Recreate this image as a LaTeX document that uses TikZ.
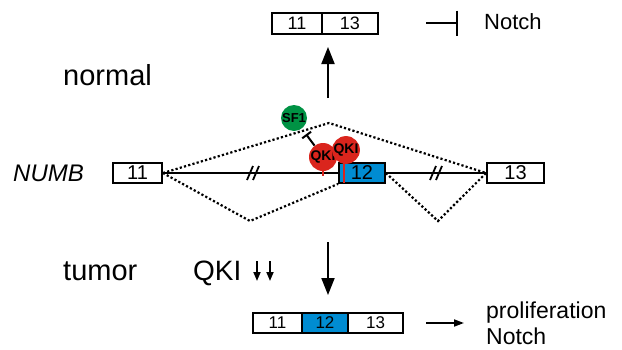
\documentclass[tikz,border=0pt]{standalone}
\usepackage{fontspec}
\setmainfont{Liberation Sans}
\usetikzlibrary{arrows.meta}
\definecolor{exblue}{RGB}{0,140,210}
\definecolor{qred}{RGB}{218,37,29}
\definecolor{sfgreen}{RGB}{0,146,68}
\begin{document}
\begin{tikzpicture}[x=1pt,y=-1pt,
  exon/.style={draw,line width=1.8pt,minimum height=20pt,inner sep=0pt,fill=white,
    font=\fontsize{18}{18}\selectfont},
  dotline/.style={line width=2.2pt,dash pattern=on 2.2pt off 2.2pt},
  bigarrow/.style={line width=2pt,-{Triangle[width=13pt,length=17pt]}},
  lbl/.style={anchor=base west,inner sep=0pt},
  qki/.style={circle,fill=qred,minimum size=28pt,inner sep=0pt,
    font=\bfseries\fontsize{14}{14}\selectfont},
  brk/.style={line width=1.8pt}]
\useasboundingbox (0,0) rectangle (622,349);

% top spliced product
\node[exon,minimum width=50pt,minimum height=21pt] (t11) at (297,23.5) {11};
\node[exon,minimum width=56pt,minimum height=21pt] (t13) at (350,23.5) {13};
\coordinate (inhS) at (426,23);
\coordinate (inhE) at (458,23);
\draw[line width=1.8pt,-{Bar[width=25pt,line width=2pt]}] (inhS) -- (inhE);
\node[lbl,font=\fontsize{22}{22}\selectfont] (notch1) at (484,29) {Notch};

\coordinate (upS) at (328,98);
\coordinate (upE) at (328,47);
\draw[bigarrow] (upS) -- (upE);

\node[lbl,font=\fontsize{29}{29}\selectfont] (normal) at (63,85) {normal};

% gene
\node[lbl,font=\itshape\fontsize{24}{24}\selectfont] (numb) at (13,181) {NUMB};
\node[exon,minimum width=49pt,font=\fontsize{20}{20}\selectfont] (e11) at (137.5,173) {11};
\node[exon,minimum width=46pt,fill=exblue,font=\fontsize{20}{20}\selectfont] (e12) at (362,173) {12};
\node[exon,minimum width=57pt,font=\fontsize{20}{20}\selectfont] (e13) at (515.5,173) {13};

\draw[line width=1.8pt] (e11.east) -- (e12.west);
\draw[line width=1.8pt] (e12.east) -- (e13.west);
\foreach \bx in {252,435}{
  \draw[brk] (\bx-5,180) -- (\bx+1,166);
  \draw[brk] (\bx+1,180) -- (\bx+7,166);
}

\coordinate (topk) at (329,123);
\coordinate (botl) at (250,221);
\coordinate (botr) at (438,221);
\draw[dotline] (e11.east) -- (topk) -- (e13.west);
\draw[dotline] (e11.east) -- (botl) -- (e12.south west);
\draw[dotline] (e12.east) -- (botr) -- (e13.west);

% factors
\node[circle,fill=sfgreen,minimum size=26pt,inner sep=0pt,
  font=\bfseries\fontsize{13}{13}\selectfont] (sf1) at (294,118) {SF1};
\node[qki] (q1) at (323,157) {QKI};
\draw[qred,line width=2pt] (q1.south) -- ++(0,5);
\draw[qred,line width=2.2pt] (344,163) -- (344,183);
\node[qki,minimum size=27pt] (q2) at (346,150) {QKI};
\draw[line width=2pt,shorten >=7pt,-{Bar[width=11pt,line width=2pt]}] (q1) -- (sf1);

% tumor
\node[lbl,font=\fontsize{29}{29}\selectfont] (tumor) at (63,280) {tumor};
\node[lbl,font=\fontsize{28}{28}\selectfont] (qkit) at (193,280) {QKI};
\foreach \ax in {257,270}{
  \draw[line width=1.8pt,-{Triangle[width=7pt,length=9pt]}] (\ax,261) -- (\ax,281);
}
\coordinate (dnS) at (328,242);
\coordinate (dnE) at (328,295);
\draw[bigarrow] (dnS) -- (dnE);

\node[exon,minimum width=49pt,font=\fontsize{17}{17}\selectfont] (b11) at (277.5,323) {11};
\node[exon,minimum width=46pt,fill=exblue,font=\fontsize{17}{17}\selectfont] (b12) at (325,323) {12};
\node[exon,minimum width=55pt,font=\fontsize{17}{17}\selectfont] (b13) at (375.5,323) {13};

\coordinate (raS) at (426,323);
\coordinate (raE) at (464,323);
\draw[line width=1.8pt,-{Triangle[width=7pt,length=10pt]}] (raS) -- (raE);
\node[lbl,font=\fontsize{23}{23}\selectfont] (prol) at (486,318) {proliferation};
\node[lbl,font=\fontsize{23}{23}\selectfont] (notch2) at (486,344) {Notch};
\end{tikzpicture}
\end{document}
